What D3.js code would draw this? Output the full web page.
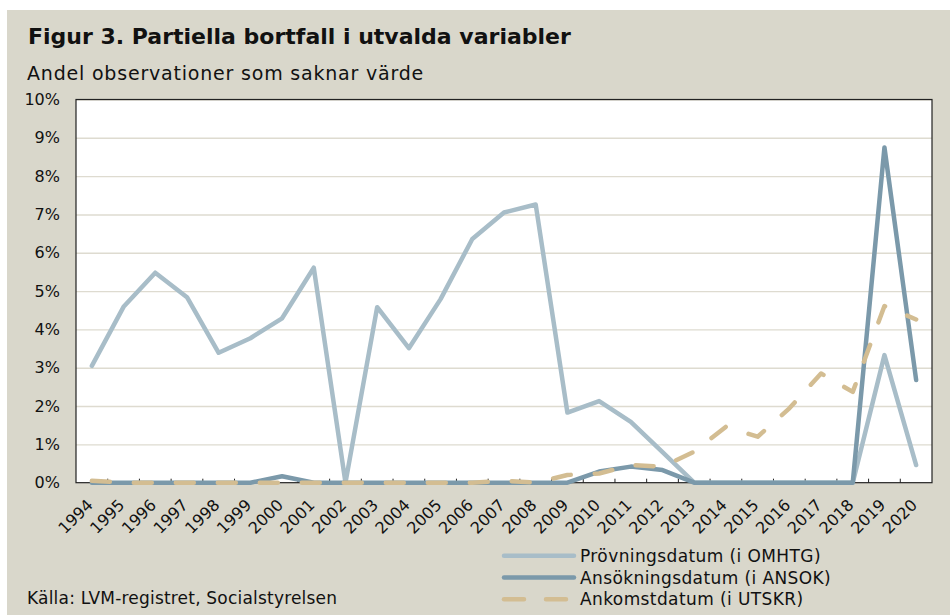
<!DOCTYPE html>
<html>
<head>
<meta charset="utf-8">
<script src="https://cdn.jsdelivr.net/npm/d3@7"></script>
<style>
  html, body { margin: 0; padding: 0; background: #ffffff; }
  svg { display: block; }
  text { font-family: "DejaVu Sans", sans-serif; fill: #111; }
</style>
</head>
<body>
<div id="chart"></div>
<script>
// years on the x axis
var years = [1994, 1995, 1996, 1997, 1998, 1999, 2000, 2001, 2002, 2003, 2004, 2005, 2006,
             2007, 2008, 2009, 2010, 2011, 2012, 2013, 2014, 2015, 2016, 2017, 2018, 2019, 2020];

// share missing, in percent
var provningsdatum = [3.05, 4.59, 5.48, 4.84, 3.39, 3.77, 4.29, 5.61, 0, 4.58, 3.51, 4.79, 6.36,
                      7.05, 7.26, 1.83, 2.13, 1.59, 0.8, 0, 0, 0, 0, 0, 0, 3.33, 0.46];
var ansokningsdatum = [0, 0, 0, 0, 0, 0, 0.17, 0, 0, 0, 0, 0, 0,
                       0, 0, 0, 0.29, 0.42, 0.33, 0, 0, 0, 0, 0, 0, 8.75, 2.68];
var ankomstdatum = [0.05, 0, 0, 0, 0, 0, 0, 0, 0, 0, 0, 0, 0,
                    0.05, 0, 0.2, 0.24, 0.46, 0.42, 0.81, 1.46, 1.2, 1.94, 2.85, 2.37, 4.61, 4.26];

var yTicks = [0, 1, 2, 3, 4, 5, 6, 7, 8, 9, 10];

var seriesNames = ["Prövningsdatum (i OMHTG)", "Ansökningsdatum (i ANSOK)", "Ankomstdatum (i UTSKR)"];

function init() {
    var W = 950, H = 615;
    var plot = { left: 76, right: 932, top: 99.5, bottom: 482.7 };

    var svg = d3.select("#chart")
        .append("svg")
        .attr("width", W)
        .attr("height", H);

    // beige panel
    svg.append("rect")
        .attr("x", 7).attr("y", 10)
        .attr("width", W - 7).attr("height", H - 10)
        .style("fill", "#d9d7cb");

    // titles
    svg.append("text")
        .attr("x", 28).attr("y", 43.5)
        .style("font-size", "22px")
        .style("font-weight", "bold")
        .text("Figur 3. Partiella bortfall i utvalda variabler");

    svg.append("text")
        .attr("x", 27).attr("y", 80)
        .style("font-size", "19px")
        .style("letter-spacing", "0.8px")
        .text("Andel observationer som saknar värde");

    var x = d3.scaleBand()
        .domain(years)
        .range([plot.left, plot.right]);

    var y = d3.scaleLinear()
        .domain([0, 10])
        .range([plot.bottom, plot.top]);

    // plot background
    svg.append("rect")
        .attr("x", plot.left).attr("y", plot.top)
        .attr("width", plot.right - plot.left)
        .attr("height", plot.bottom - plot.top)
        .style("fill", "#ffffff");

    // gridlines + y labels
    var yAxis = svg.append("g")
        .attr("transform", "translate(" + plot.left + ",0)")
        .call(d3.axisLeft(y)
            .tickValues(yTicks)
            .tickSize(-(plot.right - plot.left))
            .tickPadding(16)
            .tickFormat(function (d) { return d + "%"; }));
    yAxis.select(".domain").remove();
    yAxis.selectAll(".tick line")
        .style("stroke", "#dedbd0")
        .style("stroke-width", 1.4);
    yAxis.selectAll(".tick text")
        .style("font-size", "16px")
        .style("fill", "#111");

    // frame
    svg.append("rect")
        .attr("x", plot.left).attr("y", plot.top)
        .attr("width", plot.right - plot.left)
        .attr("height", plot.bottom - plot.top)
        .style("fill", "none")
        .style("stroke", "#222")
        .style("stroke-width", 1.2);

    // inward tick marks at the band boundaries
    svg.append("g")
        .selectAll("line")
        .data(years.slice(1))
        .join("line")
        .attr("x1", function (d) { return x(d); })
        .attr("x2", function (d) { return x(d); })
        .attr("y1", plot.bottom)
        .attr("y2", plot.bottom - 4)
        .style("stroke", "#222")
        .style("stroke-width", 1);

    // rotated year labels
    svg.append("g")
        .selectAll("text")
        .data(years)
        .join("text")
        .attr("transform", function (d) {
            return "translate(" + (x(d) + x.bandwidth() / 2 + 2) + ",506) rotate(-45)";
        })
        .style("text-anchor", "end")
        .style("font-size", "16px")
        .text(function (d) { return d; });

    var cx = function (i) { return x(years[i]) + x.bandwidth() / 2; };

    var line = d3.line()
        .x(function (d, i) { return cx(i); })
        .y(function (d) { return y(d); });

    var series = [
        { name: seriesNames[0], values: provningsdatum, color: "#a8bdc8", dash: null },
        { name: seriesNames[1], values: ansokningsdatum, color: "#7b99aa", dash: null },
        { name: seriesNames[2], values: ankomstdatum, color: "#d3bd92", dash: "18,24" }
    ];

    series.forEach(function (s) {
        svg.append("path")
            .datum(s.values)
            .attr("d", line)
            .style("fill", "none")
            .style("stroke", s.color)
            .style("stroke-width", 4.5)
            .style("stroke-linejoin", "round")
            .style("stroke-linecap", "round")
            .style("stroke-dasharray", s.dash);
    });

    // legend
    var legend = svg.selectAll(".legend")
        .data(series)
        .join("g")
        .attr("class", "legend")
        .attr("transform", function (d, i) { return "translate(0," + (555.7 + i * 21.8) + ")"; });

    legend.append("line")
        .attr("x1", 504).attr("x2", 574)
        .attr("y1", 0).attr("y2", 0)
        .style("stroke", function (d) { return d.color; })
        .style("stroke-width", 4.5)
        .style("stroke-linecap", "round")
        .style("stroke-dasharray", function (d) { return d.dash ? "20,22" : null; });

    legend.append("text")
        .attr("x", 580)
        .attr("y", 6)
        .style("font-size", "17px")
        .style("letter-spacing", "0.4px")
        .text(function (d) { return d.name; });

    // source
    svg.append("text")
        .attr("x", 27).attr("y", 604)
        .style("font-size", "17px")
        .style("letter-spacing", "0.2px")
        .text("Källa: LVM-registret, Socialstyrelsen");
}

window.onload = init;
</script>
</body>
</html>
